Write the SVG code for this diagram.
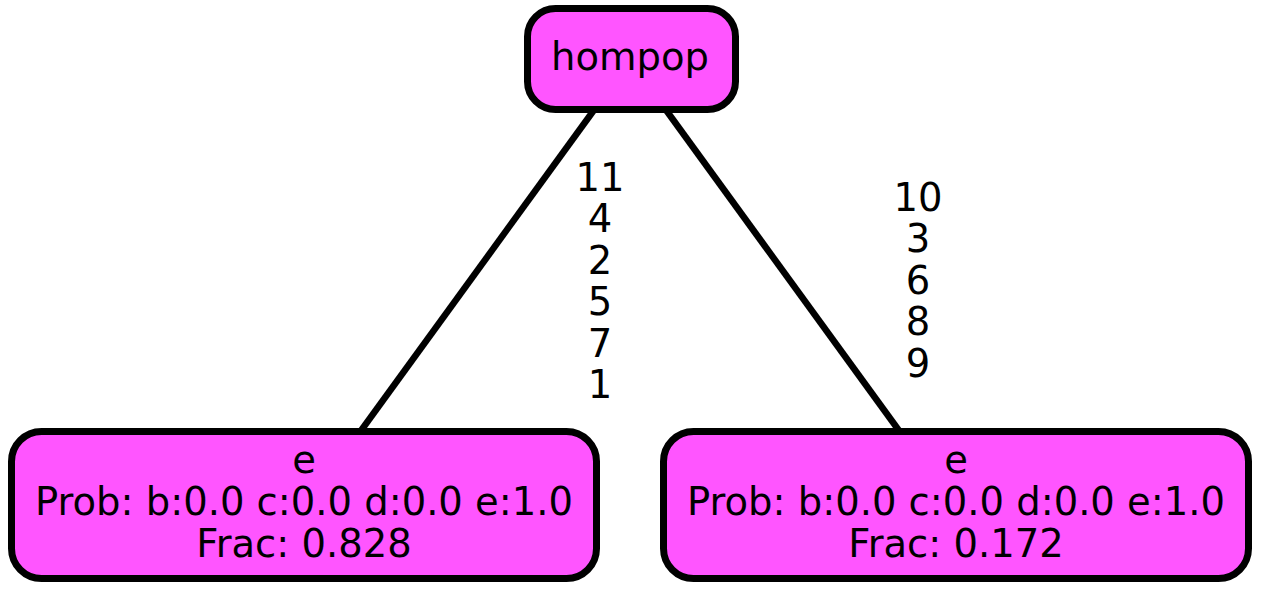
<svg xmlns="http://www.w3.org/2000/svg" width="1261" height="592" viewBox="0 0 1261 592">
<style>
.node rect{fill:#ff55ff;stroke:#000;stroke-width:7}
text{font-family:"DejaVu Sans",sans-serif;font-size:38.5px;fill:#000}
.c{text-anchor:middle}
.edge line{stroke:#000;stroke-width:6.5}
</style>
<rect width="1261" height="592" fill="#fff"/>
<g id="edges" class="edge">
<line x1="594" y1="110" x2="360" y2="432"/>
<line x1="666" y1="110" x2="900" y2="432"/>
<text class="c" x="600"><tspan x="600" y="191">11</tspan><tspan x="600" y="232">4</tspan><tspan x="600" y="274">2</tspan><tspan x="600" y="315">5</tspan><tspan x="600" y="357">7</tspan><tspan x="600" y="398">1</tspan></text>
<text class="c" x="918"><tspan x="918" y="211">10</tspan><tspan x="918" y="252">3</tspan><tspan x="918" y="294">6</tspan><tspan x="918" y="335">8</tspan><tspan x="918" y="377">9</tspan></text>
</g>
<g id="hompop" class="node">
<rect x="527.5" y="8.5" width="208" height="101" rx="28"/>
<text class="c" x="630" y="70">hompop</text>
</g>
<g id="e1" class="node">
<rect x="11.5" y="431.5" width="585" height="147" rx="30"/>
<text class="c" x="304" y="473">e</text>
<text class="c" x="304" y="515">Prob: b:0.0 c:0.0 d:0.0 e:1.0</text>
<text class="c" x="304" y="557">Frac: 0.828</text>
</g>
<g id="e2" class="node">
<rect x="663.5" y="431.5" width="585" height="147" rx="30"/>
<text class="c" x="956" y="473">e</text>
<text class="c" x="956" y="515">Prob: b:0.0 c:0.0 d:0.0 e:1.0</text>
<text class="c" x="956" y="557">Frac: 0.172</text>
</g>
</svg>
